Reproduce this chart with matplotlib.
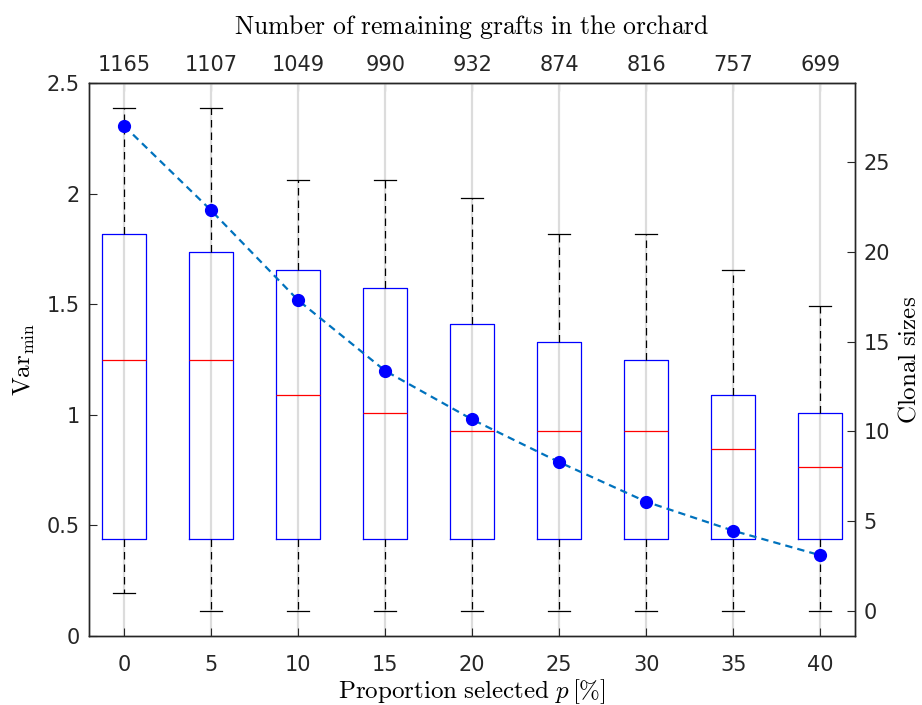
import matplotlib
matplotlib.use('Agg')
import matplotlib.pyplot as plt

# ---- data ----
proportion = [0, 5, 10, 15, 20, 25, 30, 35, 40]
grafts = [1165, 1107, 1049, 990, 932, 874, 816, 757, 699]
var_min = [2.306, 1.924, 1.518, 1.199, 0.979, 0.786, 0.607, 0.476, 0.365]
clone_q1 = [4, 4, 4, 4, 4, 4, 4, 4, 4]
clone_med = [14, 14, 12, 11, 10, 10, 10, 9, 8]
clone_q3 = [21, 20, 19, 18, 16, 15, 14, 12, 11]
clone_lo = [1, 0, 0, 0, 0, 0, 0, 0, 0]
clone_hi = [28, 28, 24, 24, 23, 21, 21, 19, 17]
left_ticks = [0, 0.5, 1, 1.5, 2, 2.5]
left_ticklabels = ['0', '0.5', '1', '1.5', '2', '2.5']
right_ticks = [0, 5, 10, 15, 20, 25]

plt.rcParams['mathtext.fontset'] = 'cm'
plt.rcParams['font.family'] = ['DejaVu Sans']

W, H = 922, 705
fig = plt.figure(figsize=(W / 100, H / 100), dpi=100)
x0, x1, ytop, ybot = 89.3, 855, 83, 636
axB = fig.add_axes([x0 / W, 1 - ybot / H, (x1 - x0) / W, (ybot - ytop) / H])
axL = axB.twinx()

axB.set_zorder(1)
axL.set_zorder(2)
axL.patch.set_visible(False)

stats = [dict(med=m, q1=a, q3=b, whislo=lo, whishi=hi, fliers=[])
         for m, a, b, lo, hi in zip(clone_med, clone_q1, clone_q3, clone_lo, clone_hi)]
axB.bxp(stats, positions=proportion, widths=2.5, showfliers=False,
        boxprops=dict(color='#0000FF', lw=0.9),
        medianprops=dict(color='#FF0000', lw=0.9),
        whiskerprops=dict(color='black', lw=0.9, linestyle=(0, (6, 4))),
        capprops=dict(color='black', lw=0.9),
        manage_ticks=False)

axB.set_xlim(-2, 42)
axB.set_ylim(-1.4, 29.4)
axB.set_axisbelow(True)
axB.xaxis.grid(True, color='#dcdcdc', lw=1.6)
axB.yaxis.tick_right()
axB.yaxis.set_label_position('right')
axB.set_yticks(right_ticks)
axB.set_xticks(proportion)
axB.set_xticklabels([str(p) for p in proportion])
axB.tick_params(axis='x', direction='in', length=6, labelsize=15, pad=14, colors='#262626')
axB.tick_params(axis='y', direction='in', length=6, labelsize=15, pad=6, colors='#262626')
axB.set_ylabel(r'$\mathrm{Clonal\ sizes}$', fontsize=18, labelpad=5, rotation=90)
axB.set_xlabel(r'$\mathrm{Proportion\ selected}\ p\,[\%]$', fontsize=18, labelpad=1.5)

axL.yaxis.tick_left()
axL.yaxis.set_label_position('left')
axL.plot(proportion, var_min, linestyle=(0, (3.3, 2.3)), color='#0072BD', lw=1.6, zorder=2)
axL.plot(proportion, var_min, linestyle='none', marker='o', color='#0000FF', ms=8.5, zorder=3)
axL.set_ylim(0, 2.5)
axL.set_yticks(left_ticks)
axL.set_yticklabels(left_ticklabels)
axL.tick_params(axis='y', direction='in', length=6, labelsize=15, pad=7, colors='#262626')
axL.set_ylabel(r'$\mathrm{Var}_{\mathrm{min}}$', fontsize=18, labelpad=7)

sec = axB.secondary_xaxis('top')
sec.set_xticks(proportion)
sec.set_xticklabels([str(g) for g in grafts])
sec.tick_params(direction='in', length=6, labelsize=15, pad=6, colors='#262626')
sec.set_xlabel(r'$\mathrm{Number\ of\ remaining\ grafts\ in\ the\ orchard}$', fontsize=18.5, labelpad=15)

for a in (axB, axL):
    for s in a.spines.values():
        s.set_color('#262626')
        s.set_linewidth(1.0)
sec.spines['top'].set_color('#262626')

fig.savefig('out.png', dpi=100, facecolor='white')
